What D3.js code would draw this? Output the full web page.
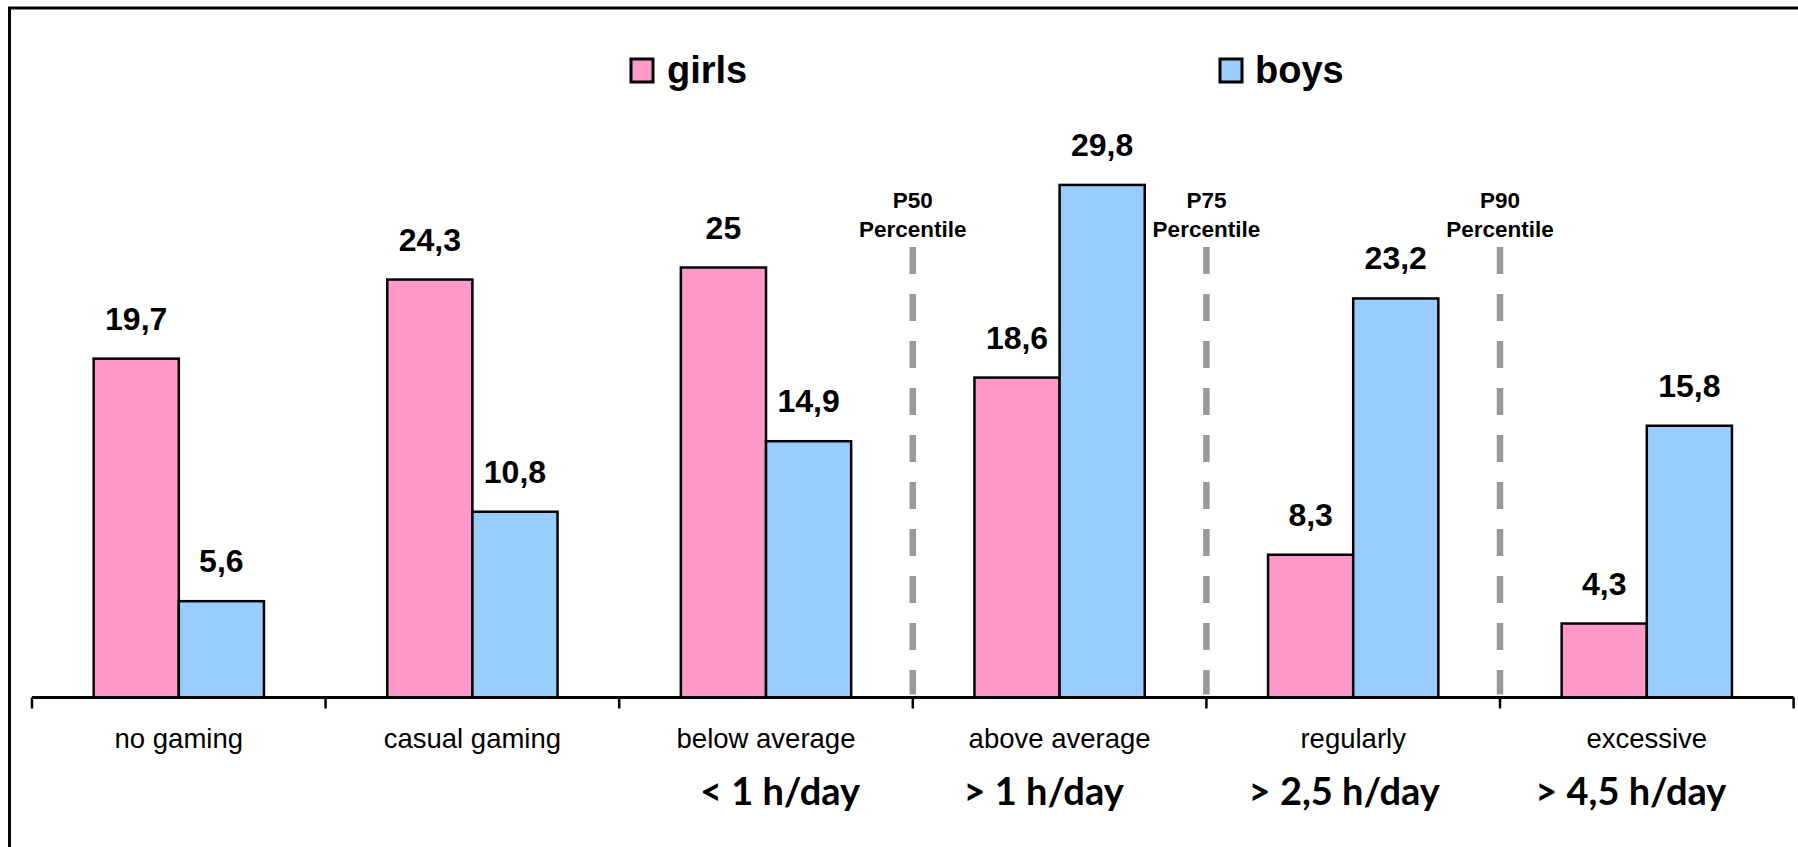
<!DOCTYPE html>
<html>
<head>
<meta charset="utf-8">
<script src="https://cdn.jsdelivr.net/npm/d3@7"></script>
<style>
  html, body { margin: 0; padding: 0; background: #fff; overflow: hidden; }
  svg { display: block; }
</style>
</head>
<body>
<svg id="chart" width="1798" height="847"></svg>
<script>
// ---- data ----
const categories = ["no gaming", "casual gaming", "below average", "above average", "regularly", "excessive"];
const seriesNames = ["girls", "boys"];
const girls = [19.7, 24.3, 25, 18.6, 8.3, 4.3];
const boys  = [5.6, 10.8, 14.9, 29.8, 23.2, 15.8];
const valueLabels = {
  girls: ["19,7", "24,3", "25", "18,6", "8,3", "4,3"],
  boys:  ["5,6", "10,8", "14,9", "29,8", "23,2", "15,8"]
};
const timeLabels = ["", "", "< 1 h/day", "> 1 h/day", "> 2,5 h/day", "> 4,5 h/day"];
const percentileAfter = ["below average", "above average", "regularly"];
const percentileNames = ["P50", "P75", "P90"];
const yDomain = [0, 35];

// ---- layout ----
const W = 1798, H = 847;
const axisY = 697.5, axisLeft = 32, axisRight = 1793.6;
const colors = { girls: "#FF99CC", boys: "#99CCFF" };
const timeDx = [0, 0, 14, -16, -9, -16];

const svg = d3.select("#chart");

const x0 = d3.scaleBand().domain(categories).range([axisLeft, axisRight])
  .paddingInner(0.42).paddingOuter(0.21);
const x1 = d3.scaleBand().domain(seriesNames).range([0, x0.bandwidth()]).padding(0);
const y = d3.scaleLinear().domain(yDomain).range([axisY, axisY - 35 * 17.2]);

// outer frame (top + left visible)
svg.append("path")
  .attr("d", `M9.5,${H} L9.5,8 L${W},8`)
  .attr("fill", "none").attr("stroke", "#000").attr("stroke-width", 3);

// percentile dashed lines
const boundaryX = c => x0(c) + x0.bandwidth() + x0.step() * x0.paddingInner() / 2;
percentileAfter.forEach((c, i) => {
  const bx = boundaryX(c);
  svg.append("line")
    .attr("x1", bx).attr("x2", bx)
    .attr("y1", 247).attr("y2", axisY - 3)
    .attr("stroke", "#999").attr("stroke-width", 6.5)
    .attr("stroke-dasharray", "27,20");
  svg.append("text").attr("x", bx).attr("y", 208)
    .attr("text-anchor", "middle")
    .attr("font-family", "Liberation Sans, Arial, sans-serif")
    .attr("font-weight", "bold").attr("font-size", 22.5)
    .text(percentileNames[i]);
  svg.append("text").attr("x", bx).attr("y", 237)
    .attr("text-anchor", "middle")
    .attr("font-family", "Liberation Sans, Arial, sans-serif")
    .attr("font-weight", "bold").attr("font-size", 22.5)
    .text("Percentile");
});

// bars
const rows = categories.map((c, i) => ({ cat: c, i, girls: girls[i], boys: boys[i] }));
const groups = svg.append("g").selectAll("g").data(rows).join("g")
  .attr("transform", d => `translate(${x0(d.cat)},0)`);

groups.selectAll("rect")
  .data(d => seriesNames.map(s => ({ s, v: d[s], i: d.i })))
  .join("rect")
  .attr("x", d => x1(d.s))
  .attr("y", d => y(d.v))
  .attr("width", x1.bandwidth())
  .attr("height", d => y(0) - y(d.v))
  .attr("fill", d => colors[d.s])
  .attr("stroke", "#000").attr("stroke-width", 2.5);

groups.selectAll("text.val")
  .data(d => seriesNames.map(s => ({ s, v: d[s], i: d.i })))
  .join("text").attr("class", "val")
  .attr("x", d => x1(d.s) + x1.bandwidth() / 2)
  .attr("y", d => y(d.v) - 29)
  .attr("text-anchor", "middle")
  .attr("font-family", "Liberation Sans, Arial, sans-serif")
  .attr("font-weight", "bold").attr("font-size", 32)
  .text(d => valueLabels[d.s][d.i]);

// x axis
const axis = d3.axisBottom(x0).tickSize(0).tickFormat("");
const axG = svg.append("g").attr("transform", `translate(0,${axisY})`).call(axis);
axG.select(".domain").attr("stroke", "#000").attr("stroke-width", 3)
  .attr("d", `M${axisLeft},0H${axisRight}`);
// boundary ticks
const bounds = [axisLeft].concat(categories.map(c => boundaryX(c)));
axG.selectAll("line.btick").data(bounds).join("line").attr("class", "btick")
  .attr("x1", d => d).attr("x2", d => d).attr("y1", 0).attr("y2", 11)
  .attr("stroke", "#000").attr("stroke-width", 2.5);

// category labels
svg.append("g").selectAll("text").data(categories).join("text")
  .attr("x", c => x0(c) + x0.bandwidth() / 2)
  .attr("y", 748)
  .attr("text-anchor", "middle")
  .attr("font-family", "Liberation Sans, Arial, sans-serif")
  .attr("font-size", 27.5)
  .text(c => c);

// time labels
svg.append("g").selectAll("text").data(categories).join("text")
  .attr("x", (c, i) => x0(c) + x0.bandwidth() / 2 + timeDx[i])
  .attr("y", 805)
  .attr("text-anchor", "middle")
  .attr("font-family", "Lato, sans-serif")
  .attr("font-weight", "bold").attr("font-size", 38)
  .text((c, i) => timeLabels[i]);

// legend
const legendPos = [{ sx: 631, tx: 667 }, { sx: 1220, tx: 1255 }];
seriesNames.forEach((s, i) => {
  svg.append("rect").attr("x", legendPos[i].sx).attr("y", 59)
    .attr("width", 22).attr("height", 23)
    .attr("fill", colors[s]).attr("stroke", "#000").attr("stroke-width", 3);
  svg.append("text").attr("x", legendPos[i].tx).attr("y", 83)
    .attr("font-family", "Liberation Sans, Arial, sans-serif")
    .attr("font-weight", "bold").attr("font-size", 38)
    .text(s);
});
</script>
</body>
</html>
